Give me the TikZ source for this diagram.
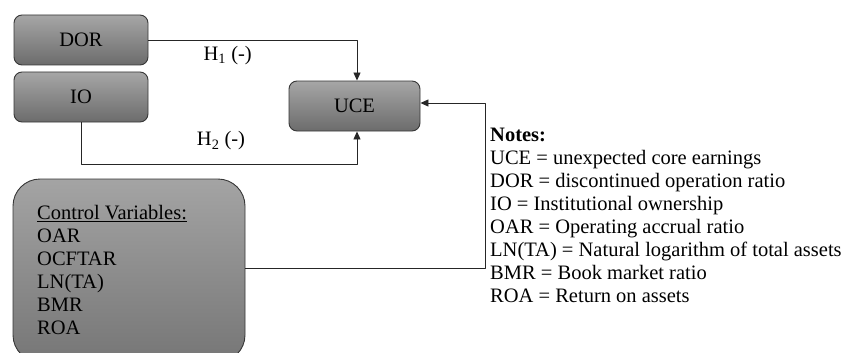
\documentclass[tikz,border=0pt]{standalone}
\usepackage{fontspec}
\setmainfont{Liberation Serif}
\usetikzlibrary{arrows.meta,calc,positioning}
\definecolor{boxtop}{RGB}{166,166,166}
\definecolor{boxbot}{RGB}{108,108,108}
\definecolor{bigtop}{RGB}{164,164,164}
\definecolor{bigbot}{RGB}{118,118,118}
\definecolor{edge}{RGB}{55,55,55}

\begin{document}
\begin{tikzpicture}[>={Triangle[length=8pt,width=7pt]}, line join=round, x=1pt, y=-1pt,
		varbox/.style={draw=edge, line width=0.9pt, rounded corners=8pt,
			top color=boxtop, bottom color=boxbot,
			minimum width=134pt, minimum height=50pt, inner sep=0pt,
			font=\fontsize{20.5}{23}\selectfont},
		link/.style={draw=black!85, line width=0.9pt, ->},
		lbl/.style={font=\fontsize{20.5}{23}\selectfont, inner sep=0pt}]
		
		\useasboundingbox (0,0) rectangle (843,353);
		\clip (0,0) rectangle (843,353);
		
		% variables
		\node[varbox] (dor) at (81,40) {DOR};
		\node[varbox] (io) at (81,97) {IO};
		\node[varbox, minimum width=131pt] (uce) at (354.5,106) {UCE};
		
		% control variables (bottom edge runs off the page)
		\node[varbox, rounded corners=27pt, top color=bigtop, bottom color=bigbot,
		minimum width=232pt, minimum height=183pt] (ctrl) at (129,270.5) {};
		\node[lbl, anchor=north west, align=left] (ctrltxt) at (37,205) {%
			\underline{Control Variables:}\\ OAR\\ OCFTAR\\ LN(TA)\\ BMR\\ ROA};
		
		% hypotheses
		\draw[link] (dor.east) -| ([xshift=2.5pt]uce.north)
		node[lbl, pos=0.19, below=6pt] (h1) {H\textsubscript{1} (-)};
		\draw[link] (io.south) -- ++(0,42) coordinate (iocorner) -| ([xshift=2.5pt]uce.south);
		\node[lbl] (h2) at (221,141) {H\textsubscript{2} (-)};
		\draw[link] ([yshift=2.5pt]ctrl.east) -- ++(240,0) coordinate (ctrlcorner) |- ([yshift=3pt]uce.east);
		
		% notes
		\node[lbl, anchor=north west, align=left] (notes) at (490,128) {%
			\textbf{Notes:}\\
			UCE = unexpected core earnings\\
			DOR = discontinued operation ratio\\
			IO = Institutional ownership\\
			OAR = Operating accrual ratio\\
			LN(TA) = Natural logarithm of total assets\\
			BMR = Book market ratio\\
			ROA = Return on assets};
		
\end{tikzpicture}
\end{document}
